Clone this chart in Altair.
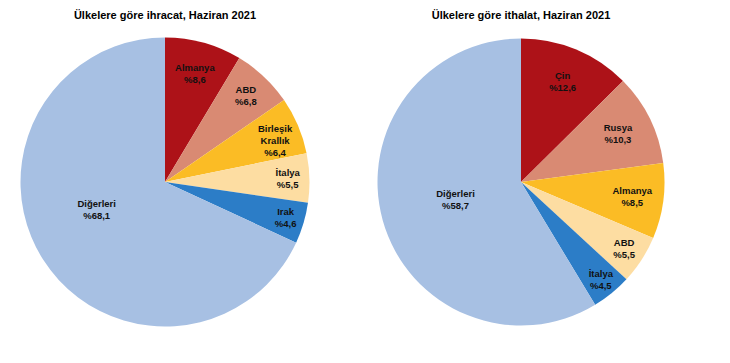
import altair as alt
import pandas as pd

ihracat_ulke = ["Almanya", "ABD", "Birleşik Krallık", "İtalya", "Irak", "Diğerleri"]
ihracat_pay = [8.6, 6.8, 6.4, 5.5, 4.6, 68.1]
ithalat_ulke = ["Çin", "Rusya", "Almanya", "ABD", "İtalya", "Diğerleri"]
ithalat_pay = [12.6, 10.3, 8.5, 5.5, 4.5, 58.7]
renkler = ["#AD1218", "#D98A73", "#FBBC25", "#FDDDA2", "#2C7DC7", "#A7C0E3"]

FONT = "Liberation Sans"


def frame(names, vals):
    return pd.DataFrame({
        "ulke": names,
        "pay": vals,
        "sira": list(range(len(names))),
        "etiket": [n.replace(" ", "\n") + "\n%" + f"{v:.1f}".replace(".", ",")
                   for n, v in zip(names, vals)],
    })


def pie(df, title, r, big_off_deg, big_r):
    base = alt.Chart(df)
    arc = base.mark_arc(outerRadius=r).encode(
        theta=alt.Theta("pay:Q", stack=True),
        order=alt.Order("sira:Q"),
        color=alt.Color("sira:O", scale=alt.Scale(domain=list(range(6)), range=renkler), legend=None),
    )
    text = base.transform_window(
        cum="sum(pay)", sort=[{"field": "sira"}], frame=[None, 0]
    ).transform_joinaggregate(
        total="sum(pay)"
    ).transform_calculate(
        ang=f"(datum.cum - datum.pay/2) / datum.total * 2 * PI + (datum.sira == 5 ? {big_off_deg} * PI / 180 : 0)",
        lr=f"datum.sira == 5 ? {big_r} : max(108, 142 - 3.5 * datum.pay)",
    ).mark_text(
        font=FONT, fontSize=9.5, fontWeight="bold", color="#111", lineBreak="\n",
        lineHeight=12, align="center", baseline="middle", dy=-6,
    ).encode(
        theta=alt.Theta("ang:Q", scale=None),
        radius=alt.Radius("lr:Q", scale=None),
        text="etiket:N",
    )
    return alt.layer(arc, text).properties(
        width=314, height=310,
        title=alt.TitleParams(title, font=FONT, fontSize=11, fontWeight="bold",
                              anchor="middle", offset=6, color="#000"),
    )


left = pie(frame(ihracat_ulke, ihracat_pay), "Ülkelere göre ihracat, Haziran 2021", 144.5, 10, 74)
right = pie(frame(ithalat_ulke, ithalat_pay), "Ülkelere göre ithalat, Haziran 2021", 143.5, 0, 68)

chart = alt.hconcat(left, right, spacing=42).properties(
    padding={"top": 2, "left": 0, "right": 0, "bottom": 0}
).configure_view(stroke=None)

chart.save("out.html", embed_options={"renderer": "svg", "actions": False})
